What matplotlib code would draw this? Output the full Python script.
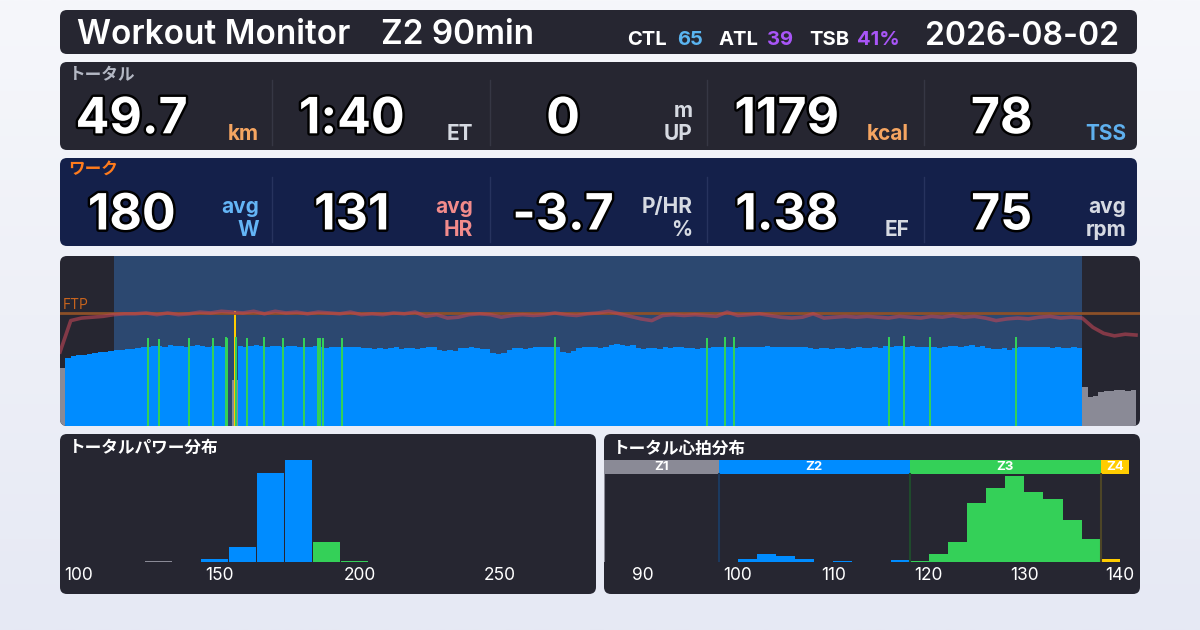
import matplotlib
matplotlib.use('Agg')
import matplotlib.pyplot as plt
from matplotlib.patches import FancyBboxPatch, Rectangle
from matplotlib.colors import LinearSegmentedColormap
import matplotlib.patheffects as pe
import matplotlib.transforms as mtrans
import numpy as np

# ---------------- data ----------------
title_left = "Workout Monitor"
title_sub = "Z2 90min"
date_text = "2026-08-02"
ctl, atl, tsb = "65", "39", "41%"

total_label = "トータル"
total_values = ["49.7", "1:40", "0", "1179", "78"]
total_units = [["km"], ["ET"], ["m", "UP"], ["kcal"], ["TSS"]]
work_label = "ワーク"
work_values = ["180", "131", "-3.7", "1.38", "75"]
work_units = [["avg", "W"], ["avg", "HR"], ["P/HR", "%"], ["EF"], ["avg", "rpm"]]

FTP = 245
power_zone_edges = [134.75, 183.75, 220.5, 257.25]
work_start, work_end = 5, 95            # minutes
# power, 30 s samples
power = [
    126, 148, 151, 153, 154, 156, 158, 160, 161, 162,
    164, 165, 167, 166, 168, 170,
    172, 174, 173, 171, 175, 173, 174, 172, 173, 175, 174, 172, 174, 173, 171,
    0, 100,
    173, 172, 174, 175, 173, 171, 174, 173, 172, 174, 173,
    171, 172, 170, 173, 171, 169, 172, 171, 170, 172, 171, 170, 169,
    168, 167, 169, 166, 168, 170, 167, 168, 169, 167, 168,
    171, 170,
    164, 162, 165, 163,
    169, 168, 170,
    168, 167, 166,
    158, 156, 157,
    165, 168, 169, 167, 168,
    171, 170, 172, 171, 170,
    161, 159, 162,
    169, 170, 171, 170, 169, 171,
    175, 177, 176, 174, 176,
    168, 167, 169, 168, 166,
    170, 169, 171, 170, 168,
    168, 167, 169, 168,
    171, 170, 172, 171, 169, 172,
    171, 170, 172, 171, 173, 170, 171,
    171, 172, 170, 171, 172,
    168, 167, 169, 168, 166, 168, 169, 167,
    169, 170, 168, 169, 171, 168,
    173, 172, 174, 173, 171, 173,
    171, 170, 172, 171, 169, 171,
    173, 174, 172, 173, 175, 172, 173,
    168, 166, 167, 169, 165, 168,
    171, 170, 172, 171, 170, 172,
    169, 170, 168, 169, 171, 168,
    85, 62, 64, 74, 76, 75, 78, 77, 76, 79,
]
sample_min = 0.5
# short power spikes (minute, watts)
spike_t = [8.18, 9.2, 11.99, 14.22, 15.43, 15.52, 16.26, 16.36, 17.38, 18.96, 20.72, 22.68,
           23.98, 24.16, 24.44, 26.21, 46.0, 60.13, 61.8, 62.64, 77.04, 78.44, 80.86, 88.85]
spike_w = [190, 189, 190, 191, 192, 191, 250, 193, 191, 192, 191, 190,
           190, 191, 190, 191, 192, 191, 193, 192, 193, 194, 192, 192]
# heart rate, 1 min samples
hr = [87, 124, 127, 128, 129, 131, 132, 132, 133, 131,
      133, 131, 132, 134, 133, 135, 134, 133, 135, 132,
      135, 133, 134, 132, 134, 133, 132, 134, 131, 132,
      131, 133, 132, 134, 129, 131, 127, 128, 131, 132,
      131, 128, 130, 131, 130, 131, 133, 131, 130, 132,
      133, 135, 132, 129, 126, 124, 130, 131, 130, 131,
      130, 129, 134, 130, 131, 132, 130, 128, 127, 128,
      132, 127, 128, 129, 128, 129, 128, 127, 129, 128,
      127, 129, 128, 130, 128, 129, 127, 124, 126, 127,
      126, 128, 129, 127, 128, 127, 116, 109, 106, 108, 107]

power_hist_title = "トータルパワー分布"
power_bin_left = [123.5, 133.5, 143.5, 153.5, 163.5, 173.5, 183.5, 193.5]
power_bin_val = [1, 0, 3, 15, 89, 102, 20, 1]
power_ticks = [100, 150, 200, 250]

hr_hist_title = "トータル心拍分布"
hr_zone_names = ["Z1", "Z2", "Z3", "Z4"]
hr_zone_edges = [86, 98, 118, 138, 141]
hr_bin_left = [100, 102, 104, 106, 110, 116, 118, 120, 122, 124, 126, 128, 130, 132, 134, 136, 138]
hr_bin_val = [3, 8, 6, 3, 1, 2, 1, 8, 20.3, 59, 74, 86.3, 70, 63, 42, 23, 3]
hr_ticks = [90, 100, 110, 120, 130, 140]

# ---------------- style ----------------
W, H = 1200, 630
DARK = '#262631'
NAVY = '#14204a'
TSBLUE = '#2c4870'
C_GRAY = '#8a8a96'
C_BLUE = '#008cff'
C_GREEN = '#34d058'
C_YEL = '#ffcc00'
C_ORG = '#ff8c1a'
LAT = ['Inter', 'Noto Sans CJK JP', 'DejaVu Sans']
JP = ['Noto Sans CJK JP', 'DejaVu Sans']
plt.rcParams['font.family'] = LAT


def rect(x0, y0, x1, y1):
    return [x0 / W, 1 - y1 / H, (x1 - x0) / W, (y1 - y0) / H]


def pzone(v):
    cols = [C_GRAY, C_BLUE, C_GREEN, C_YEL, C_ORG]
    for e, c in zip(power_zone_edges, cols):
        if v < e:
            return c
    return cols[-1]


fig = plt.figure(figsize=(12, 6.3), dpi=100)
fig.patch.set_facecolor('#eef0f6')
bg = fig.add_axes([0, 0, 1, 1])
bg.set_zorder(0)
grad = np.linspace(0, 1, 256).reshape(-1, 1)
bg.imshow(grad, extent=[0, W, H, 0], aspect='auto', zorder=0,
          cmap=LinearSegmentedColormap.from_list('g', ['#f6f7fb', '#e6e9f4']))
bg.set_xlim(0, W)
bg.set_ylim(H, 0)
bg.axis('off')


def panel(x0, y0, x1, y1, color, r=7):
    p = FancyBboxPatch((x0 + r, y0 + r), x1 - x0 - 2 * r, y1 - y0 - 2 * r,
                       boxstyle=f'round,pad={r}', fc=color, ec='none', zorder=1)
    bg.add_patch(p)
    return p


panel(60, 10, 1137, 54, DARK)
panel(60, 62, 1137, 150, DARK)
panel(60, 158, 1137, 246, NAVY)
ts_panel = panel(60, 256, 1140, 426, DARK)
panel(60, 434, 596, 594, DARK)
panel(604, 434, 1140, 594, DARK)

# ---- header ----
bg.text(77, 44, title_left, color='white', fontsize=24, fontweight='semibold', va='baseline', zorder=3)
bg.text(381, 44, title_sub, color='white', fontsize=24, fontweight='semibold', va='baseline', zorder=3)
hdr = [("CTL", 627.5, 'white'), (ctl, 677.5, '#5ab4f0'), ("ATL", 718.8, 'white'),
       (atl, 767, '#a855f7'), ("TSB", 809, 'white'), (tsb, 857, '#a855f7')]
for s, x, c in hdr:
    bg.text(x, 45, s, color=c, fontsize=14.5, fontweight='bold', va='baseline', zorder=3)
bg.text(1119, 45, date_text, color='white', fontsize=23, fontweight='semibold',
        va='baseline', ha='right', zorder=3)

# ---- stat panels ----
num_cx = [131.7, 351.8, 563, 786.8, 1001.7]
unit_rx = [259, 473.3, 692.3, 909.2, 1126.2]
dividers = [272.4, 489.8, 707.4, 924.4]
stroke = [pe.withStroke(linewidth=3.5, foreground='black')]


def stat_row(label, label_col, label_y, values, units, unit_cols, base, y_div, div_col):
    bg.text(68.5, label_y, label, color=label_col, fontsize=12, fontweight='bold',
            family=JP, va='baseline', zorder=3)
    for x in dividers:
        bg.plot([x, x], y_div, color=div_col, lw=1, zorder=2)
    for v, cx in zip(values, num_cx):
        bg.text(cx, base, v, color='white', fontsize=36, fontweight='bold', ha='center',
                va='baseline', zorder=3, path_effects=stroke)
    for u, rx, uc in zip(units, unit_rx, unit_cols):
        if len(u) == 1:
            bg.text(rx, base + 6.7, u[0], color=uc, fontsize=15, fontweight='bold',
                    ha='right', va='baseline', zorder=3)
        else:
            bg.text(rx, base - 16.6, u[0], color=uc, fontsize=15, fontweight='bold',
                    ha='right', va='baseline', zorder=3)
            bg.text(rx, base + 6.7, u[1], color=uc, fontsize=15, fontweight='bold',
                    ha='right', va='baseline', zorder=3)


stat_row(total_label, '#b4b8c4', 80.5, total_values, total_units,
         ['#f5a561', '#d6dae2', '#d6dae2', '#f5a561', '#5fb0ee'], 133.3, [80, 145], '#363744')
stat_row(work_label, '#ff7b1c', 174.0, work_values, work_units,
         ['#64b5f6', '#f28b8b', '#d6dae2', '#d6dae2', '#d6dae2'], 229.5, [177, 242], '#27335e')

# ---- time series ----
ax = fig.add_axes(rect(60, 256, 1140, 426))
ax.set_zorder(2)
ax.patch.set_alpha(0)
ax.axis('off')
ax.set_xlim(0, len(power) * sample_min * 1080 / 1076)
ax.set_ylim(0, 368)
ax.axvspan(work_start, work_end, color=TSBLUE, lw=0, zorder=0)
t = np.arange(len(power)) * sample_min
b1 = ax.bar(t, power, width=sample_min, align='edge', color=[pzone(v) for v in power],
            linewidth=0, zorder=2)
b2 = ax.bar(spike_t, spike_w, width=0.14, align='center', color=[pzone(v) for v in spike_w],
            linewidth=0, zorder=3)
for b in list(b1) + list(b2):
    b.set_clip_path(ts_panel)
ax.axhline(FTP, color='#8c5028', lw=2, zorder=4)
ax.text(0.28, FTP + 8, "FTP", color='#c8641e', fontsize=10, va='baseline', zorder=5)
axh = ax.twinx()
axh.set_ylim(0, 200)
axh.axis('off')
axh.plot(np.arange(len(hr)), hr, color='#c04656', alpha=0.6, lw=2.6, zorder=5)

# ---- power histogram ----
bg.text(68.6, 453, power_hist_title, color='white', fontsize=12, fontweight='bold',
        family=JP, va='baseline', zorder=3)
ap = fig.add_axes(rect(60, 460, 596, 562))
ap.set_zorder(2)
ap.patch.set_alpha(0)
ap.set_xlim(93.3, 284.1)
ap.set_ylim(0, 102)
ap.bar(power_bin_left, power_bin_val, width=9.6, align='edge',
       color=[pzone(x + 5) for x in power_bin_left], linewidth=0)
for s in ap.spines.values():
    s.set_visible(False)
ap.set_yticks([])
ap.set_xticks(power_ticks)
ap.tick_params(axis='x', length=0, pad=3.5, labelcolor='white', labelsize=12.5)

# ---- HR histogram ----
bg.text(613, 453.5, hr_hist_title, color='white', fontsize=12, fontweight='bold',
        family=JP, va='baseline', zorder=3)
ah = fig.add_axes(rect(604.2, 460, 1129.4, 562))
ah.set_zorder(2)
ah.patch.set_alpha(0)
ah.set_xlim(hr_zone_edges[0], hr_zone_edges[-1])
ah.set_ylim(0, 102)
zone_cols = [C_GRAY, C_BLUE, C_GREEN, C_YEL]
div_cols = [C_GRAY, '#1b3a60', '#1f4a2c', '#4d4526']
band_lo = (562 - 474) / 102
trans = mtrans.blended_transform_factory(ah.transData, ah.transAxes)
for i, name in enumerate(hr_zone_names):
    lo, hi = hr_zone_edges[i], hr_zone_edges[i + 1]
    ah.add_patch(Rectangle((lo, band_lo), hi - lo, 1 - band_lo, transform=trans,
                           fc=zone_cols[i], ec='none', clip_on=False))
    ah.text((lo + hi) / 2, (band_lo + 1) / 2, name, transform=trans, color='white',
            fontsize=9.5, fontweight='bold', ha='center', va='center')
    ah.axvline(lo, ymin=0, ymax=band_lo, color=div_cols[i], lw=1.5)


def hzone(x):
    for i in range(4):
        if x < hr_zone_edges[i + 1]:
            return zone_cols[i]
    return zone_cols[-1]


ah.bar(hr_bin_left, hr_bin_val, width=2, align='edge',
       color=[hzone(x + 0.5) for x in hr_bin_left], linewidth=0)
for s in ah.spines.values():
    s.set_visible(False)
ah.set_yticks([])
ah.set_xticks(hr_ticks)
ah.tick_params(axis='x', length=0, pad=3.5, labelcolor='white', labelsize=12.5)

fig.savefig('out.png', dpi=100, facecolor=fig.get_facecolor())
